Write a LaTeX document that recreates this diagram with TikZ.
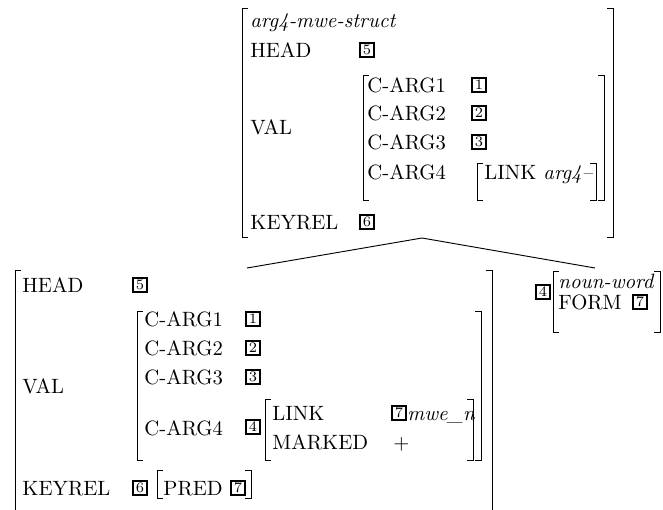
\documentclass[tikz,border=0pt]{standalone}

\tikzset{
  attr/.style={anchor=base west, inner sep=0pt},
  tagbox/.style={draw, line width=0.9pt, inner sep=0pt, minimum size=6.9pt, font=\scriptsize},
  brak/.style={line width=0.45pt}
}
% a pair of square brackets: left x, right x, top y, bottom y
\newcommand{\avmbrackets}[4]{%
  \draw[brak] ({#1+6},#3) -- (#1,#3) -- (#1,#4) -- ({#1+6},#4);
  \draw[brak] ({#2-6},#3) -- (#2,#3) -- (#2,#4) -- ({#2-6},#4);}

\begin{document}
\begin{tikzpicture}[x=0.483pt, y=-0.483pt]
  \useasboundingbox (0,0) rectangle (663,509);
  \clip (0,0) rectangle (663,509);

  % mother
  \begin{scope}[every node/.style={attr}]
    \node (mtype) at (250,27) {\textit{arg4-mwe-struct}};
    \node (mhead) at (250,57) {HEAD};
    \node (mval) at (250,134) {VAL};
    \node (mkey) at (250,229) {KEYREL};
    \node (marg1) at (367,92) {C-ARG1};
    \node (marg2) at (367,120) {C-ARG2};
    \node (marg3) at (367,149) {C-ARG3};
    \node (marg4) at (367,179) {C-ARG4};
    \node (mlink) at (484,179) {LINK};
    \node (mlinkv) at (543,179) {\textit{arg4--}};
  \end{scope}
  \begin{scope}[every node/.style={tagbox}]
    \node (mtag5) at (367,50) {5};
    \node (mtag1) at (479,85) {1};
    \node (mtag2) at (479,113) {2};
    \node (mtag3) at (479,142) {3};
    \node (mtag6) at (367,222) {6};
  \end{scope}
  \avmbrackets{242}{613}{8}{237}
  \avmbrackets{363}{604}{75}{200}
  \avmbrackets{477}{596}{163}{200}

  % left daughter
  \begin{scope}[every node/.style={attr}]
    \node (lhead) at (22,292) {HEAD};
    \node (lval) at (22,393) {VAL};
    \node (lkey) at (22,495) {KEYREL};
    \node (larg1) at (144,326) {C-ARG1};
    \node (larg2) at (144,355) {C-ARG2};
    \node (larg3) at (144,384) {C-ARG3};
    \node (larg4) at (144,435) {C-ARG4};
    \node (llink) at (272,420) {LINK};
    \node (lmark) at (272,449) {MARKED};
    \node (llinkv) at (407,420) {\textit{mwe\_n}};
    \node (lplus) at (393,449) {$+$};
    \node (lpred) at (163,495) {PRED};
  \end{scope}
  \begin{scope}[every node/.style={tagbox}]
    \node (ltag5) at (140,285) {5};
    \node (ltag1) at (253,319) {1};
    \node (ltag2) at (253,348) {2};
    \node (ltag3) at (253,377) {3};
    \node (ltag4) at (253,427) {4};
    \node (ltag7) at (399,413) {7};
    \node (ltag6) at (140,488) {6};
    \node (lpred7) at (238,488) {7};
  \end{scope}
  \avmbrackets{15}{492}{270}{540}
  \avmbrackets{137}{481}{311}{460}
  \avmbrackets{265}{473}{399}{460}
  \avmbrackets{157}{251}{470}{498}

  % right daughter
  \begin{scope}[every node/.style={attr}]
    \node (rtype) at (558,288) {\textit{noun-word}};
    \node (rform) at (558,309) {FORM};
  \end{scope}
  \begin{scope}[every node/.style={tagbox}]
    \node (rtag4) at (543,292) {4};
    \node (rtag7) at (640,302) {7};
  \end{scope}
  \avmbrackets{553}{660}{271}{332}

  % tree
  \coordinate (top) at (422,238);
  \coordinate (lc) at (247,268);
  \coordinate (rc) at (595,268);
  \path[every edge/.style={draw, line width=0.45pt}]
    (top) edge (lc)
    (top) edge (rc);
\end{tikzpicture}
\end{document}
